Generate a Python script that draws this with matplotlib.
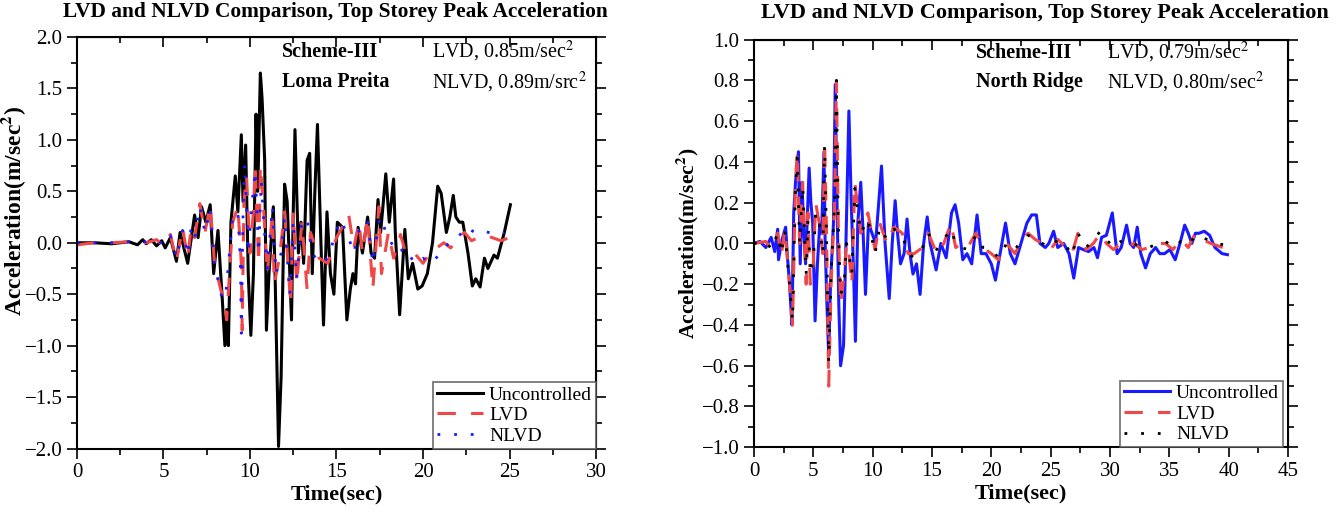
import numpy as np
import matplotlib
matplotlib.use("Agg")
import matplotlib.pyplot as plt
from matplotlib.ticker import MultipleLocator, FuncFormatter

plt.rcParams['font.family'] = ['Liberation Serif', 'DejaVu Serif']
plt.rcParams['mathtext.fontset'] = 'stix'

# ---- Loma Preita (left panel) ----
lp_unc_t = [0, 1, 2, 3, 3.5, 3.8, 4.0, 4.3, 4.6, 4.9, 5.1, 5.4, 5.75, 5.96, 6.4, 6.8, 7.0, 7.2, 7.45, 7.7,
            7.9, 8.15, 8.4, 8.55, 8.65, 8.75, 8.9, 9.15, 9.3, 9.5, 9.6, 9.75, 9.9, 10.05, 10.2, 10.35,
            10.45, 10.6, 10.7, 10.85, 10.95, 11.1, 11.35, 11.45, 11.65, 11.8, 12.0, 12.15, 12.4, 12.5,
            12.6, 12.8, 12.95, 13.1, 13.3, 13.45, 13.6, 13.75, 13.9, 14.1, 14.25, 14.45, 14.65, 14.85,
            15.05, 15.35, 15.6, 15.8, 15.95, 16.1, 16.25, 16.5, 16.8, 17.0, 17.2, 17.4, 17.55, 17.85,
            18.05, 18.3, 18.4, 18.65, 18.95, 19.15, 19.4, 19.7, 19.95, 20.25, 20.55, 20.85, 21.05,
            21.35, 21.55, 21.75, 21.9, 22.1, 22.3, 22.6, 22.85, 23.05, 23.3, 23.55, 23.75, 24.1, 24.3,
            24.7, 25.05]
lp_unc_a = [0.0, 0.0, -0.01, 0.01, -0.02, 0.03, -0.01, 0.03, -0.03, 0.02, -0.05, 0.05, -0.18, 0.1, -0.2,
            0.27, 0.05, 0.35, 0.2, 0.37, -0.3, 0.12, -0.55, -1.0, -0.65, -1.0, 0.2, 0.65, 0.3, 1.05, 0.4,
            0.95, -0.3, -0.9, -0.3, 1.25, 0.5, 1.65, 1.4, 0.8, -0.85, -0.3, 0.35, -0.3, -1.98, -1.3, 0.57,
            0.4, -0.75, 0.3, 1.1, -0.1, 0.2, -0.2, 0.8, 0.87, -0.3, 0.5, 1.15, 0.0, -0.8, 0.3, -0.3,
            -0.5, 0.2, 0.15, -0.75, -0.45, -0.3, -0.4, 0.15, -0.1, 0.25, -0.1, -0.15, 0.42, 0.1, 0.67,
            0.2, 0.62, 0.1, -0.7, 0.13, -0.35, -0.2, -0.45, -0.42, -0.3, 0.0, 0.55, 0.48, 0.1, 0.25,
            0.46, 0.25, 0.2, 0.2, -0.1, -0.42, -0.35, -0.43, -0.15, -0.25, -0.12, -0.15, 0.1, 0.37]

lp_lvd_t = [0, 1, 2, 3, 4, 4.6, 5.0, 5.4, 5.75, 6.1, 6.4, 6.6, 6.8, 7.1, 7.4, 7.7, 7.95, 8.3, 8.5, 8.65,
            9.0, 9.3, 9.5, 9.55, 9.65, 9.8, 10.0, 10.2, 10.3, 10.5, 10.6, 10.8, 11.0, 11.3, 11.4, 11.7,
            12.0, 12.35, 12.5, 12.7, 13.0, 13.3, 13.5, 14.0, 14.5, 15.0, 15.5, 15.7, 16.0, 16.3, 16.5,
            16.8, 17.1, 17.45, 17.6, 18.0, 18.3, 18.7, 19.0, 19.5, 20.0, 20.4, 20.8, 21.2, 21.6, 22.0,
            22.4, 22.8, 23.2, 23.6, 24.0, 24.5, 25.0]
lp_lvd_a = [-0.02, 0.0, 0.0, 0.01, 0.0, 0.03, -0.03, 0.08, -0.18, 0.15, -0.15, 0.15, 0.05, 0.38, 0.1,
            0.37, -0.2, -0.45, -0.55, -0.75, 0.2, 0.35, -0.2, -0.85, 0.4, 0.65, -0.1, 0.3, 0.75, -0.2,
            0.75, 0.3, -0.3, 0.3, -0.4, -0.15, 0.3, -0.6, 0.3, -0.4, 0.2, -0.45, 0.1, -0.15, -0.2, 0.05,
            0.2, 0.28, -0.05, 0.2, -0.1, 0.25, -0.45, 0.35, -0.3, 0.1, -0.15, 0.08, -0.1, -0.1, -0.2,
            -0.1, -0.05, 0.0, -0.05, 0.05, 0.1, 0.02, 0.05, 0.07, 0.05, 0.02, 0.05]

lp_nlvd_t = [0, 1, 2, 3, 4, 4.6, 5.0, 5.4, 5.75, 6.1, 6.4, 6.6, 6.8, 7.1, 7.4, 7.7, 7.95, 8.2, 8.4, 8.6,
             9.0, 9.3, 9.45, 9.5, 9.6, 9.7, 9.9, 10.1, 10.3, 10.5, 10.65, 10.8, 11.0, 11.3, 11.5, 11.8,
             12.0, 12.3, 12.5, 12.7, 13.0, 13.3, 13.6, 14.0, 14.5, 15.2, 15.6, 16.0, 16.4, 16.8, 17.1,
             17.5, 18.0, 18.5, 19.0, 19.5, 20.0, 20.5, 21.0, 21.5, 22.0, 22.5, 23.0, 23.3, 23.8, 24.3,
             24.7]
lp_nlvd_a = [0.0, 0.0, 0.0, 0.01, 0.01, 0.03, -0.02, 0.07, -0.15, 0.12, -0.12, 0.15, 0.05, 0.35, 0.1,
             0.33, -0.2, -0.4, -0.55, -0.5, 0.25, 0.3, -0.2, -0.88, 0.3, 0.77, -0.1, 0.35, 0.7, -0.1,
             0.6, 0.2, -0.25, 0.35, -0.3, -0.1, 0.25, -0.5, 0.22, -0.35, 0.22, 0.23, -0.1, -0.2, -0.15,
             0.22, 0.1, -0.1, 0.2, 0.2, -0.2, 0.25, 0.05, -0.1, -0.05, -0.2, -0.15, -0.2, -0.1, 0.0,
             0.05, 0.15, 0.1, 0.12, 0.1, 0.08, 0.1]

# ---- North Ridge (right panel) ----
nr_unc_t = [0, 0.5, 1.0, 1.45, 1.75, 2.0, 2.07, 2.37, 2.67, 2.8, 3.0, 3.2, 3.35, 3.5, 3.75, 3.9, 4.05,
            4.2, 4.35, 4.65, 4.8, 4.95, 5.15, 5.35, 5.55, 5.7, 5.9, 6.0, 6.15, 6.3, 6.45, 6.7, 6.85,
            7.0, 7.15, 7.3, 7.55, 7.75, 8.0, 8.2, 8.4, 8.55, 8.75, 9.0, 9.2, 9.4, 9.65, 9.95, 10.25,
            10.75, 11.05, 11.4, 11.65, 11.9, 12.1, 12.35, 12.65, 12.9, 13.15, 13.4, 13.7, 14.0, 14.3,
            14.6, 14.85, 15.35, 15.75, 16.2, 16.65, 16.95, 17.25, 17.6, 17.95, 18.35, 18.8, 19.15,
            19.55, 20.0, 20.35, 20.65, 21.2, 21.6, 22.0, 22.4, 23.0, 23.4, 23.8, 24.1, 24.55, 24.85,
            25.25, 25.6, 26.1, 26.55, 26.95, 27.35, 27.75, 28.2, 28.65, 28.95, 29.3, 29.7, 30.2, 30.6,
            30.95, 31.4, 31.7, 32.0, 32.3, 32.6, 33.0, 33.4, 33.85, 34.2, 34.6, 35.05, 35.5, 35.9, 36.3,
            36.6, 36.9, 37.2, 37.5, 37.95, 38.4, 38.85, 39.45, 39.9]
nr_unc_a = [0.0, 0.01, -0.02, 0.03, -0.04, 0.07, -0.08, 0.02, 0.08, -0.05, -0.2, -0.4, 0.15, 0.3, 0.45,
            -0.1, 0.3, 0.05, -0.1, 0.37, 0.2, 0.1, -0.38, -0.1, 0.1, 0.05, 0.45, 0.0, -0.3, -0.55, -0.2,
            0.1, 0.78, 0.2, -0.3, -0.6, -0.5, 0.0, 0.65, 0.2, -0.15, -0.48, 0.1, 0.3, 0.05, -0.25, 0.1,
            0.05, 0.0, 0.38, 0.0, -0.27, 0.0, 0.21, 0.05, -0.1, -0.05, 0.12, -0.05, -0.15, -0.1, -0.25,
            0.0, 0.13, 0.0, -0.13, 0.0, -0.07, 0.15, 0.19, 0.1, -0.08, -0.05, -0.1, 0.14, -0.05, -0.05,
            -0.1, -0.18, -0.08, 0.1, -0.05, -0.1, -0.02, 0.1, 0.14, 0.14, 0.0, -0.02, 0.0, 0.06, -0.02,
            0.0, -0.05, -0.17, -0.02, -0.03, -0.04, -0.02, -0.07, 0.03, 0.04, 0.15, -0.05, -0.02, 0.09,
            0.0, -0.02, 0.08, -0.05, -0.12, -0.05, -0.02, -0.05, -0.05, -0.03, -0.08, 0.0, 0.09, 0.05,
            0.0, 0.05, 0.05, 0.06, 0.04, -0.02, -0.05, -0.055]

nr_lvd_t = [0, 1.0, 1.5, 2.0, 2.3, 2.6, 3.0, 3.25, 3.5, 3.65, 3.85, 4.1, 4.4, 4.55, 4.75, 5.0, 5.2, 5.5,
            5.8, 5.95, 6.1, 6.3, 6.5, 6.8, 6.95, 7.1, 7.3, 7.6, 7.8, 8.0, 8.25, 8.5, 9.0, 9.6, 10.2,
            10.6, 11.2, 11.8, 12.5, 13.0, 13.5, 14.2, 14.7, 15.4, 16.0, 16.6, 17.0, 17.5, 18.0, 18.7,
            19.3, 20.0, 20.6, 21.3, 22.0, 22.6, 23.1, 23.7, 24.3, 25.0, 25.6, 26.3, 26.8, 27.3, 28.0,
            28.6, 29.2, 29.7, 30.3, 30.9, 31.5, 32.0, 32.7, 33.3, 34.0, 34.7, 35.3, 36.0, 36.6, 37.2,
            37.8, 38.5, 39.0, 39.5]
nr_lvd_a = [0.0, 0.01, -0.03, 0.05, -0.06, 0.07, -0.2, -0.4, 0.3, 0.45, 0.0, 0.3, -0.2, 0.15, -0.2, -0.1,
            0.2, 0.1, -0.05, 0.5, 0.1, -0.7, -0.2, 0.2, 0.8, 0.1, -0.3, -0.15, 0.0, -0.05, -0.2, 0.3,
            0.05, 0.15, -0.03, 0.1, 0.0, 0.08, 0.05, -0.05, -0.05, -0.02, 0.05, -0.05, 0.0, 0.1, -0.02,
            0.0, -0.02, 0.05, -0.02, -0.05, -0.08, 0.0, -0.05, 0.02, 0.05, 0.02, 0.0, -0.03, 0.02, -0.02,
            -0.05, 0.05, -0.03, 0.0, 0.05, 0.0, -0.03, 0.0, -0.02, 0.0, -0.03, -0.02, 0.0, 0.0, -0.03,
            0.02, -0.02, 0.05, 0.02, 0.0, -0.01, -0.02]

nr_nlvd_t = [0, 1.0, 1.5, 2.0, 2.3, 2.6, 3.0, 3.25, 3.5, 3.65, 3.85, 4.1, 4.4, 4.55, 4.75, 5.0, 5.2, 5.5,
             5.8, 5.95, 6.1, 6.3, 6.5, 6.8, 6.95, 7.1, 7.3, 7.6, 7.8, 8.0, 8.25, 8.5, 9.0, 9.6, 10.2,
             10.6, 11.2, 11.8, 12.5, 13.0, 13.5, 14.2, 14.7, 15.4, 16.0, 16.6, 17.0, 17.5, 18.0, 18.7,
             19.3, 20.0, 20.6, 21.3, 22.0, 22.6, 23.1, 23.7, 24.3, 25.0, 25.6, 26.3, 26.8, 27.3, 28.0,
             28.6, 29.2, 29.7, 30.3, 30.9, 31.5, 32.0, 32.7, 33.3, 34.0, 34.7, 35.3, 36.0, 36.6, 37.2,
             37.8, 38.5, 39.0, 39.9]
nr_nlvd_a = [0.0, 0.01, -0.03, 0.05, -0.05, 0.06, -0.2, -0.38, 0.28, 0.42, 0.0, 0.28, -0.15, 0.12, -0.15,
             -0.08, 0.15, 0.1, -0.05, 0.48, 0.08, -0.58, -0.15, 0.2, 0.8, 0.1, -0.25, -0.2, 0.0, -0.05,
             -0.15, 0.27, 0.05, 0.12, -0.05, 0.08, 0.02, 0.07, 0.04, -0.05, -0.07, -0.02, 0.05, -0.03,
             0.02, 0.07, 0.0, -0.02, -0.03, 0.04, -0.02, -0.03, -0.07, 0.0, -0.03, 0.02, 0.04, 0.02, 0.0,
             -0.02, 0.02, -0.01, -0.06, 0.05, -0.02, 0.02, 0.06, 0.02, -0.02, 0.01, -0.01, 0.0, -0.02,
             -0.02, 0.0, 0.01, -0.02, 0.01, -0.01, 0.04, 0.03, 0.01, 0.0, -0.01]

RED = '#f04848'
BLUE = '#1a1aff'

fig = plt.figure(figsize=(13.43, 5.12), dpi=100)
ax1 = fig.add_axes([0.0573, 0.124, 0.3865, 0.8037])
ax2 = fig.add_axes([0.5614, 0.1265, 0.3976, 0.796])

minus_fmt = FuncFormatter(lambda v, p: ('%.1f' % v).replace('-', '\u2212'))


def style_axes(ax, xmax, ymin, ymax, ymaj, ylabsize):
    ax.set_xlim(0, xmax)
    ax.set_ylim(ymin, ymax)
    ax.xaxis.set_major_locator(MultipleLocator(5))
    ax.xaxis.set_minor_locator(MultipleLocator(2.5))
    ax.yaxis.set_major_locator(MultipleLocator(ymaj))
    ax.yaxis.set_minor_locator(MultipleLocator(ymaj / 2))
    ax.yaxis.set_major_formatter(minus_fmt)
    ax.tick_params(which='both', direction='out', labelsize=15, width=1.2)
    ax.tick_params(which='major', length=7)
    ax.tick_params(which='minor', length=4)
    for s in ax.spines.values():
        s.set_linewidth(1.5)
    top = ax.secondary_xaxis('top')
    top.xaxis.set_major_locator(MultipleLocator(5))
    top.xaxis.set_minor_locator(MultipleLocator(2.5))
    top.tick_params(which='both', direction='in', labeltop=False, width=1.2)
    top.tick_params(which='major', length=7)
    top.tick_params(which='minor', length=4)
    right = ax.secondary_yaxis('right')
    right.yaxis.set_major_locator(MultipleLocator(ymaj))
    right.yaxis.set_minor_locator(MultipleLocator(ymaj / 2))
    right.tick_params(which='both', direction='out', labelright=False, width=1.2)
    right.tick_params(which='major', length=7)
    right.tick_params(which='minor', length=4)
    ax.set_xlabel('Time(sec)', fontsize=16, fontweight='bold', labelpad=2)
    ax.set_ylabel(r'Acceleration(m/sec$^{\mathbf{2}}$)', fontsize=ylabsize, fontweight='bold')


# left panel
ax1.plot(lp_unc_t, lp_unc_a, color='black', lw=2.2, solid_joinstyle='round', label='Uncontrolled')
ax1.plot(lp_lvd_t, lp_lvd_a, color=RED, lw=2.2, ls=(0, (6, 5)), label='LVD')
ax1.plot(lp_nlvd_t, lp_nlvd_a, color=BLUE, lw=2.0, ls=(0, (1, 5)), label='NLVD')
style_axes(ax1, 30, -2.0, 2.0, 0.5, 17)
ax1.yaxis.set_label_coords(-0.094, 0.577)

# right panel
ax2.plot(nr_unc_t, nr_unc_a, color=BLUE, lw=2.2, solid_joinstyle='round', label='Uncontrolled')
ax2.plot(nr_lvd_t, nr_lvd_a, color=RED, lw=2.2, ls=(0, (6, 5)), label='LVD')
ax2.plot(nr_nlvd_t, nr_nlvd_a, color='black', lw=2.0, ls=(0, (1, 5)), label='NLVD')
style_axes(ax2, 45, -1.0, 1.0, 0.2, 15.5)
ax2.yaxis.set_label_coords(-0.099, 0.5)

for ax, anchor in ((ax1, (1.0, 0.0)), (ax2, (0.9906, 0.0))):
    leg = ax.legend(loc='lower right', bbox_to_anchor=anchor, fontsize=14, frameon=True,
                    fancybox=False, borderaxespad=0, handlelength=2.4, handletextpad=0.3,
                    labelspacing=0.15, borderpad=0.2)
    leg.get_frame().set_edgecolor('#555555')
    leg.get_frame().set_linewidth(1.3)

# annotations
ax1.text(0.395, 0.9636, 'Scheme-III', transform=ax1.transAxes, fontsize=14.5, fontweight='bold', va='center')
ax1.text(0.395, 0.8906, 'Loma Preita', transform=ax1.transAxes, fontsize=14.5, fontweight='bold', va='center')
ax1.text(0.684, 0.9636, r'LVD, 0.85m/sec$^{2}$', transform=ax1.transAxes, fontsize=14.5, va='center')
ax1.text(0.684, 0.8906, r'NLVD, 0.89m/src$^{2}$', transform=ax1.transAxes, fontsize=14.5, va='center')

ax2.text(0.4157, 0.968, 'Scheme-III', transform=ax2.transAxes, fontsize=14.5, fontweight='bold', va='center')
ax2.text(0.4157, 0.895, 'North Ridge', transform=ax2.transAxes, fontsize=14.5, fontweight='bold', va='center')
ax2.text(0.661, 0.968, r'LVD, 0.79m/sec$^{2}$', transform=ax2.transAxes, fontsize=14.5, va='center')
ax2.text(0.661, 0.895, r'NLVD, 0.80m/sec$^{2}$', transform=ax2.transAxes, fontsize=14.5, va='center')

fig.text(0.250, 0.977, 'LVD and NLVD Comparison, Top Storey Peak Acceleration',
         ha='center', va='center', fontsize=15.4, fontweight='bold')
fig.text(0.778, 0.975, 'LVD and NLVD Comparison, Top Storey Peak Acceleration',
         ha='center', va='center', fontsize=16, fontweight='bold')

fig.savefig('out.png', dpi=100)
